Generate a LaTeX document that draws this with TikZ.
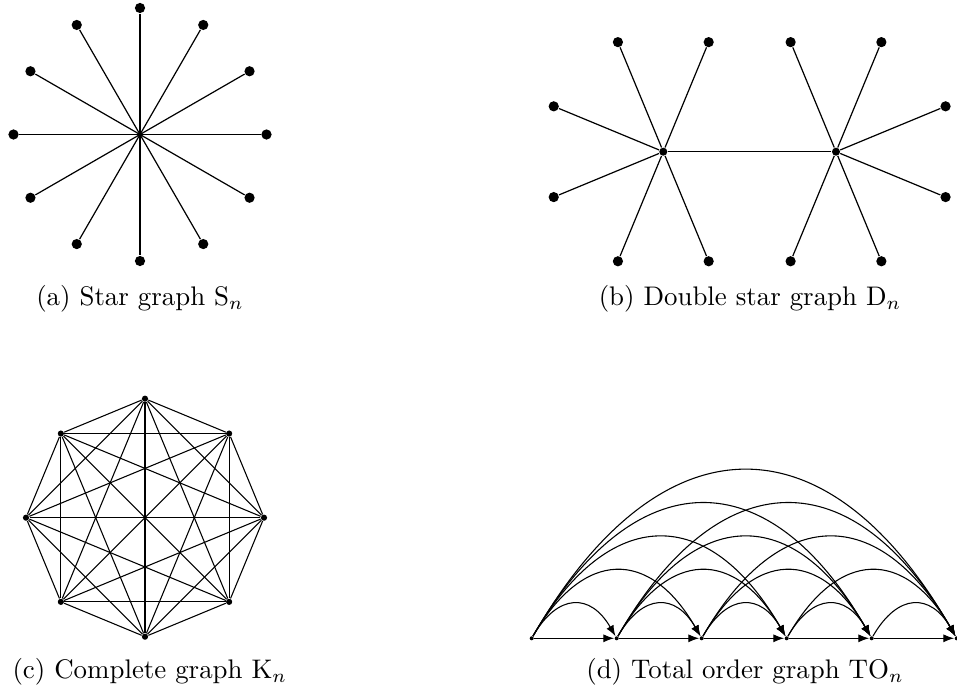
\documentclass[tikz,border=0pt]{standalone}
\usetikzlibrary{arrows.meta}
\begin{document}
\begin{tikzpicture}[x=0.372pt,y=0.372pt,
  edge/.style={line width=0.45pt},
  leafdot/.style={circle,fill=black,inner sep=0pt,minimum size=3.8pt},
  hubdot/.style={circle,fill=black,inner sep=0pt,minimum size=3.0pt},
  smalldot/.style={circle,fill=black,inner sep=0pt,minimum size=1.0pt},
  kdot/.style={circle,fill=black,inner sep=0pt,minimum size=2.3pt},
  tdot/.style={circle,fill=black,inner sep=0pt,minimum size=1.5pt},
  arr/.style={line width=0.4pt,-{Latex[length=4pt,width=3pt]}},
  caption/.style={anchor=base,inner sep=0pt,font=\normalsize}]
\useasboundingbox (0,0) rectangle (957,688);

% (a) Star graph
\node[smalldot] (sc) at (140,553.5) {};
\foreach \a in {0,30,...,330}{
  \node[leafdot] (s\a) at ([shift={(\a:126.5)}]sc) {};
  \draw[edge] (sc.center) -- (s\a);
}
\node[caption] (capa) at (140,383) {(a) Star graph $\mathrm{S}_n$};

% (b) Double star graph
\node[hubdot] (dl) at (663.3,536.3) {};
\node[hubdot] (dr) at (836,536.3) {};
\draw[edge] (dl) -- (dr);
\foreach \a [count=\c] in {67.5,112.5,157.5,202.5,247.5,292.5}{
  \node[leafdot] (dl\c) at ([shift={(\a:118.6)}]dl) {};
  \draw[edge] (dl) -- (dl\c);
}
\foreach \a [count=\c] in {22.5,67.5,112.5,247.5,292.5,337.5}{
  \node[leafdot] (dr\c) at ([shift={(\a:118.6)}]dr) {};
  \draw[edge] (dr) -- (dr\c);
}
\node[caption] (capb) at (750,383) {(b) Double star graph $\mathrm{D}_n$};

% (c) Complete graph
\coordinate (kc) at (145,170.3);
\foreach \i in {0,...,7}{
  \node[kdot] (k\i) at ([shift={(\i*45:119)}]kc) {};
}
\foreach \i in {0,...,6}{
  \pgfmathtruncatemacro\jstart{\i+1}
  \foreach \j in {\jstart,...,7}{
    \draw[edge,line width=0.4pt] (k\i) -- (k\j);
  }
}
\node[caption,anchor=base west] (capc) at (12,10) {(c) Complete graph $\mathrm{K}_n$};

% (d) Total order graph
\foreach \i in {0,...,5}{
  \node[tdot] (t\i) at (531.7+85*\i,49.7) {};
}
\foreach \i in {0,...,4}{
  \pgfmathtruncatemacro\jstart{\i+1}
  \foreach \j in {\jstart,...,5}{
    \draw[arr] (t\i) to[out=60,in=120,looseness=1.55] (t\j);
  }
  \draw[arr] (t\i) -- (t\jstart);
}
\node[caption] (capd) at (745,10) {(d) Total order graph $\mathrm{TO}_n$};
\end{tikzpicture}
\end{document}
